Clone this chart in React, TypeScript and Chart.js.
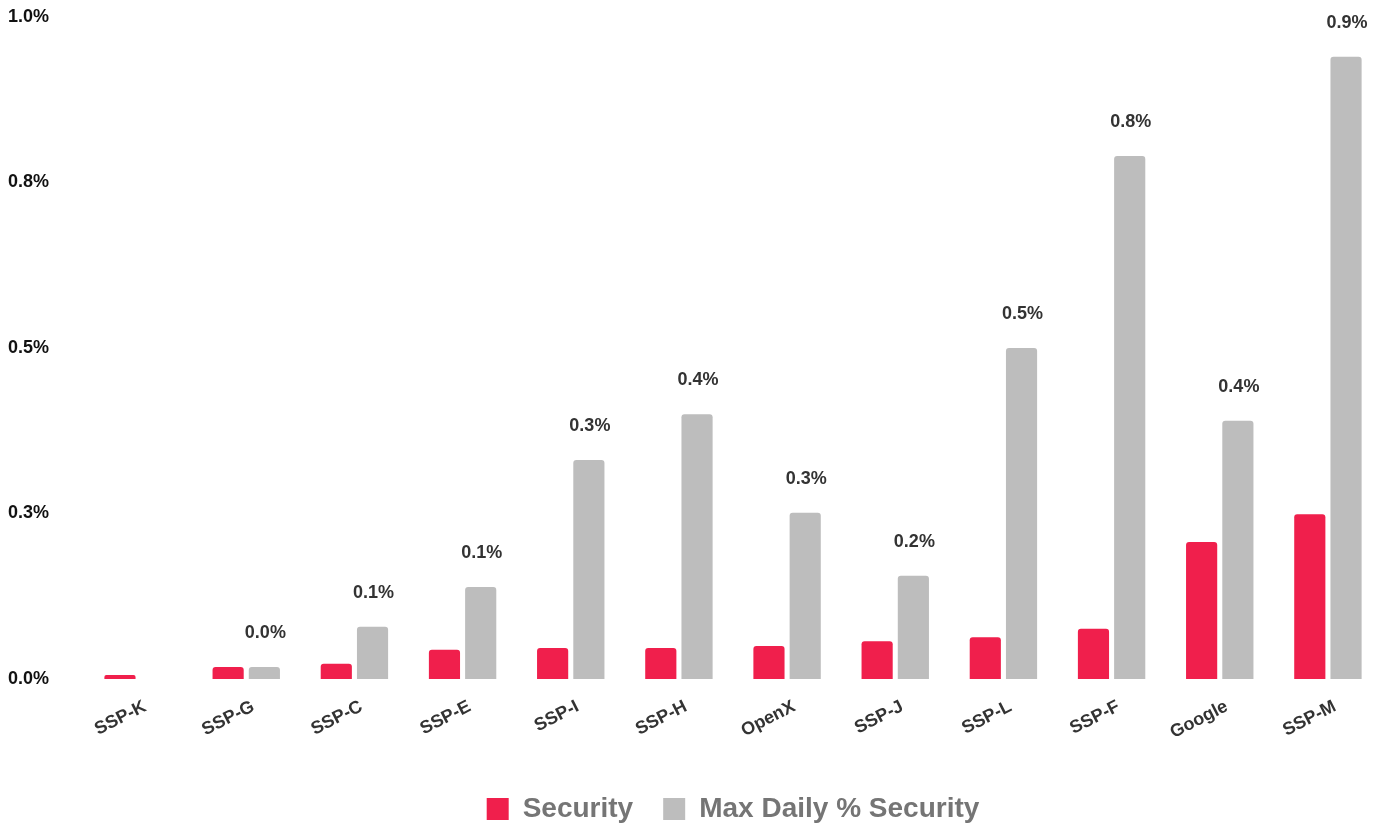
import React, { useEffect, useRef } from "react";
import { Chart, registerables } from "chart.js";

Chart.register(...registerables);

const categories = ["SSP-K", "SSP-G", "SSP-C", "SSP-E", "SSP-I", "SSP-H", "OpenX", "SSP-J", "SSP-L", "SSP-F", "Google", "SSP-M"];
const securityValues = [0.006, 0.018, 0.023, 0.044, 0.047, 0.047, 0.05, 0.057, 0.063, 0.076, 0.207, 0.249];
const maxDailyValues = [null, 0.018, 0.079, 0.139, 0.331, 0.40, 0.251, 0.156, 0.50, 0.79, 0.39, 0.94];
const seriesNames = ["Security", "Max Daily % Security"];
const yTicks = [0, 0.25, 0.5, 0.75, 1.0];

const FONT = "'Liberation Sans', Arial, sans-serif";

const valueLabels = {
  id: "valueLabels",
  afterDatasetsDraw(chart: any) {
    const ctx = chart.ctx;
    const meta = chart.getDatasetMeta(1);
    ctx.save();
    ctx.font = `bold 18px ${FONT}`;
    ctx.fillStyle = "#333333";
    ctx.textAlign = "center";
    ctx.textBaseline = "middle";
    meta.data.forEach((bar: any, i: number) => {
      const v = maxDailyValues[i];
      if (v === null || v === undefined) return;
      ctx.fillText(v.toFixed(1) + "%", bar.x + 1, bar.y - 34);
    });
    ctx.restore();
  },
};

const centerLegendOnArea = {
  id: "centerLegendOnArea",
  afterLayout(chart: any) {
    const lg = chart.legend;
    if (!lg) return;
    const shift = (chart.chartArea.left + chart.chartArea.right) / 2 - (lg.left + lg.right) / 2;
    lg.left += shift;
    lg.right += shift;
  },
};

export default function App() {
  const ref = useRef<HTMLCanvasElement | null>(null);
  useEffect(() => {
    document.body.style.margin = "0";
    if (!ref.current) return;
    const chart = new Chart(ref.current, {
      type: "bar",
      data: {
        labels: categories,
        datasets: [
          {
            label: seriesNames[0],
            data: securityValues,
            backgroundColor: "#F01F4C",
            borderRadius: { topLeft: 3, topRight: 3 },
            borderSkipped: "bottom",
            categoryPercentage: 0.67,
            barPercentage: 0.86,
          },
          {
            label: seriesNames[1],
            data: maxDailyValues,
            backgroundColor: "#BDBDBD",
            borderRadius: { topLeft: 3, topRight: 3 },
            borderSkipped: "bottom",
            categoryPercentage: 0.67,
            barPercentage: 0.86,
          },
        ],
      },
      options: {
        animation: false,
        responsive: false,
        maintainAspectRatio: false,
        layout: { padding: { top: 17, left: 8, right: 2, bottom: -7 } },
        plugins: {
          legend: {
            position: "bottom",
            labels: {
              boxWidth: 22,
              boxHeight: 22,
              padding: 30,
              color: "#757575",
              font: { family: FONT, size: 28, weight: "bold" },
            },
          },
          tooltip: { enabled: false },
        },
        scales: {
          x: {
            grid: { display: false },
            border: { display: false },
            afterFit(axis: any) {
              axis.height = 86;
            },
            ticks: {
              color: "#333333",
              font: { family: FONT, size: 18, weight: "bold" },
              minRotation: 27,
              maxRotation: 27,
              autoSkip: false,
              padding: 9,
              labelOffset: 7,
            },
          },
          y: {
            min: 0,
            max: 1.0,
            grid: { display: false },
            border: { display: false },
            afterBuildTicks(axis: any) {
              axis.ticks = yTicks.map((v) => ({ value: v }));
            },
            afterFit(axis: any) {
              axis.width = 76;
            },
            ticks: {
              crossAlign: "far",
              color: "#111111",
              font: { family: FONT, size: 18, weight: "bold" },
              callback: (v: any) => Number(v).toFixed(1) + "%",
            },
          },
        },
      },
      plugins: [valueLabels, centerLegendOnArea],
    });
    return () => chart.destroy();
  }, []);
  return (
    <div style={{ width: 1384, height: 826 }}>
      <canvas ref={ref} width={1384} height={826} style={{ display: "block" }} />
    </div>
  );
}
